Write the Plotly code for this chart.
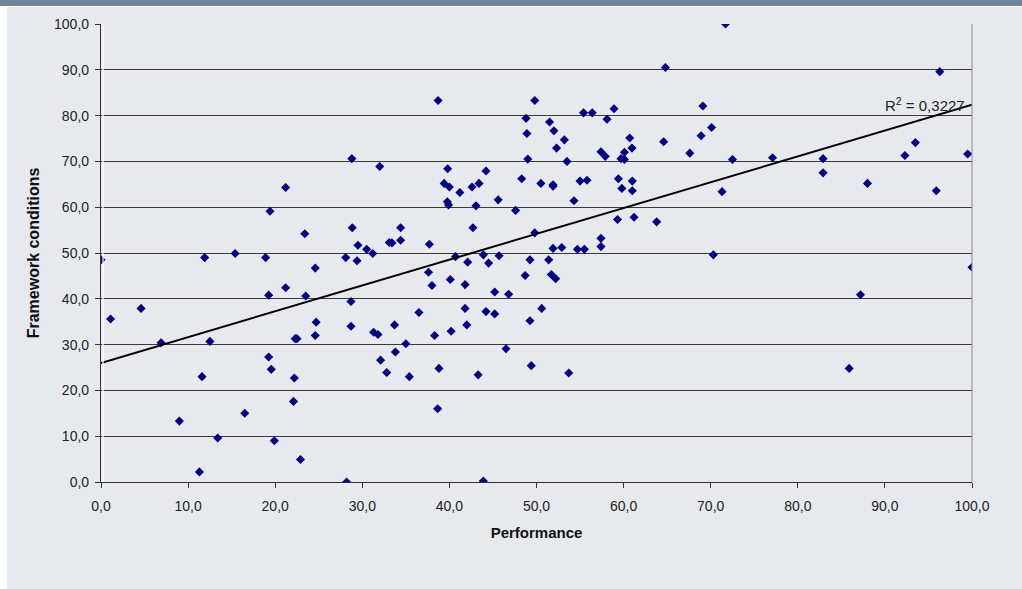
import plotly.graph_objects as go

# Data (Performance, Framework conditions)
performance = [0.0, 1.1, 4.6, 6.9, 9.0, 11.3, 11.6, 11.9, 12.5, 13.4, 15.4, 16.5, 18.9, 19.25, 19.25,
               19.4, 19.55, 19.9, 21.2, 21.2, 22.1, 22.2, 22.3, 22.5, 22.9, 23.4, 23.5, 24.6, 24.6, 24.7,
               28.1, 28.2, 28.7, 28.7, 28.8, 28.85, 29.4, 29.5, 30.5, 31.2, 31.3, 31.8, 32.0, 32.1, 32.8,
               33.1, 33.4, 33.7, 33.8, 34.4, 34.4, 35.0, 35.4, 36.5, 37.6, 37.7, 38.0, 38.3, 38.65, 38.7,
               38.8, 39.4, 39.76, 39.8, 39.9, 40.0, 40.1, 40.2, 40.7, 41.2, 41.8, 41.8, 42.0, 42.1, 42.6,
               42.7, 43.05, 43.3, 43.4, 43.9, 43.9, 44.2, 44.2, 44.5, 45.2, 45.2, 45.6, 45.7, 46.5, 46.8,
               47.6, 48.3, 48.7, 48.8, 48.9, 49.0, 49.25, 49.25, 49.4, 49.8, 49.8, 50.5, 50.6, 51.4, 51.5,
               51.7, 51.9, 51.9, 51.9, 52.0, 52.2, 52.3, 52.9, 53.2, 53.5, 53.7, 54.3, 54.7, 55.0, 55.4,
               55.5, 55.8, 56.4, 57.4, 57.4, 57.4, 57.9, 58.1, 58.9, 59.3, 59.4, 59.7, 59.8, 60.1, 60.1,
               60.7, 60.96, 61.0, 61.0, 61.2, 63.8, 64.6, 64.8, 67.6, 68.9, 69.1, 70.1, 70.3, 71.3, 71.7,
               72.5, 77.1, 82.9, 82.9, 85.9, 87.2, 88.0, 92.3, 93.5, 95.9, 96.3, 99.5, 100.0]
framework = [48.5, 35.6, 37.9, 30.4, 13.3, 2.2, 23.0, 49.0, 30.7, 9.6, 49.9, 15.0, 49.0, 40.8, 27.3,
             59.1, 24.6, 9.0, 64.3, 42.4, 17.6, 22.7, 31.3, 31.3, 4.9, 54.2, 40.6, 46.7, 32.0, 34.9,
             49.0, 0.0, 39.4, 34.0, 70.6, 55.5, 48.3, 51.7, 50.8, 49.9, 32.7, 32.2, 68.9, 26.6, 23.9,
             52.3, 52.2, 34.3, 28.4, 55.5, 52.8, 30.2, 23.0, 37.0, 45.8, 51.9, 42.9, 32.0, 16.0, 83.3,
             24.8, 65.2, 61.2, 68.4, 60.5, 64.4, 44.2, 32.9, 49.2, 63.2, 43.1, 37.9, 34.3, 48.0, 64.4,
             55.5, 60.3, 23.4, 65.2, 49.6, 0.2, 67.9, 37.2, 47.8, 41.5, 36.7, 61.6, 49.4, 29.1, 41.0,
             59.3, 66.2, 45.1, 79.4, 76.1, 70.5, 48.5, 35.2, 25.4, 83.3, 54.4, 65.2, 37.9, 48.5, 78.6,
             45.3, 64.9, 64.6, 51.0, 76.7, 44.4, 72.9, 51.2, 74.7, 70.0, 23.8, 61.4, 50.8, 65.7, 80.6,
             50.8, 65.9, 80.6, 72.1, 53.2, 51.4, 71.1, 79.2, 81.5, 57.3, 66.2, 70.6, 64.1, 72.0, 70.4,
             75.1, 72.9, 65.7, 63.6, 57.8, 56.8, 74.3, 90.5, 71.8, 75.6, 82.1, 77.4, 49.6, 63.4, 100.0,
             70.4, 70.8, 70.6, 67.5, 24.8, 40.9, 65.2, 71.3, 74.1, 63.6, 89.6, 71.6, 46.9]

# Linear trend (as shown in the chart)
trend_intercept = 26.0
trend_slope = 0.5636
trend_x = [0.0, 100.0]
trend_r2_label = "R<sup>2</sup> = 0,3227"

tick_values = [0, 10, 20, 30, 40, 50, 60, 70, 80, 90, 100]
x_title = "Performance"
y_title = "Framework conditions"

trend_y = [trend_intercept + trend_slope * v for v in trend_x]

W, H = 1022, 589
L, R, T, B = 101, 50, 24, 107
PW, PH = W - L - R, H - T - B

def px_x(p):
    return (p - L) / PW

def px_y(p):
    return (H - B - p) / PH

fig = go.Figure()
fig.add_trace(go.Scatter(
    x=performance, y=framework, mode="markers",
    marker=dict(symbol="diamond", size=7, color="#000080", line=dict(width=0)),
    showlegend=False, hoverinfo="skip"))
fig.add_trace(go.Scatter(
    x=trend_x, y=trend_y, mode="lines",
    line=dict(color="#000000", width=2),
    showlegend=False, hoverinfo="skip"))

fig.add_annotation(x=99.4, y=trend_intercept + trend_slope * 99.4 + 0.3,
                   xref="x", yref="y", text=trend_r2_label, showarrow=False,
                   xanchor="right", yanchor="middle",
                   font=dict(family="Liberation Sans, Arial", size=15, color="#222222"))

shapes = [
    dict(type="rect", xref="paper", yref="paper", x0=px_x(7), x1=px_x(W),
         y0=px_y(H), y1=px_y(7), fillcolor="#e6eaef", line=dict(width=0), layer="below"),
    dict(type="rect", xref="paper", yref="paper", x0=px_x(0), x1=px_x(W),
         y0=px_y(6), y1=px_y(0), fillcolor="#6e8698", line=dict(width=0), layer="below"),
    dict(type="line", xref="paper", yref="paper", x0=1, x1=1, y0=0, y1=1,
         line=dict(color="#8c8c8c", width=1)),
    dict(type="line", xref="paper", yref="paper", x0=px_x(103), x1=px_x(103), y0=0, y1=1,
         line=dict(color="#ffffff", width=1.2)),
]

fig.update_layout(
    width=W, height=H,
    margin=dict(l=L, r=R, t=T, b=B),
    paper_bgcolor="#ffffff",
    plot_bgcolor="rgba(0,0,0,0)",
    separators=", ",
    font=dict(family="Liberation Sans, Arial", size=14, color="#222222"),
    shapes=shapes,
    xaxis=dict(range=[0, 100], tickvals=tick_values,
               tickformat=".1f", showgrid=False, zeroline=False,
               showline=True, linecolor="#333333", linewidth=1.2,
               ticks="outside", ticklen=5, tickcolor="#333333",
               ticklabelstandoff=6,
               title=dict(text="<b>" + x_title + "</b>", standoff=14,
                          font=dict(size=15, color="#111111"))),
    yaxis=dict(range=[0, 100], tickvals=tick_values,
               tickformat=".1f", showgrid=True, gridcolor="#3a3a3a", gridwidth=1,
               zeroline=False, showline=True, linecolor="#333333", linewidth=1.2,
               ticks="outside", ticklen=5, tickcolor="#333333",
               ticklabelstandoff=3,
               title=dict(text="<b>" + y_title + "</b>", standoff=10,
                          font=dict(size=16, color="#111111"))),
)

fig.write_html("out.html", config={"displayModeBar": False},
               post_script="document.body.style.margin='0';")
